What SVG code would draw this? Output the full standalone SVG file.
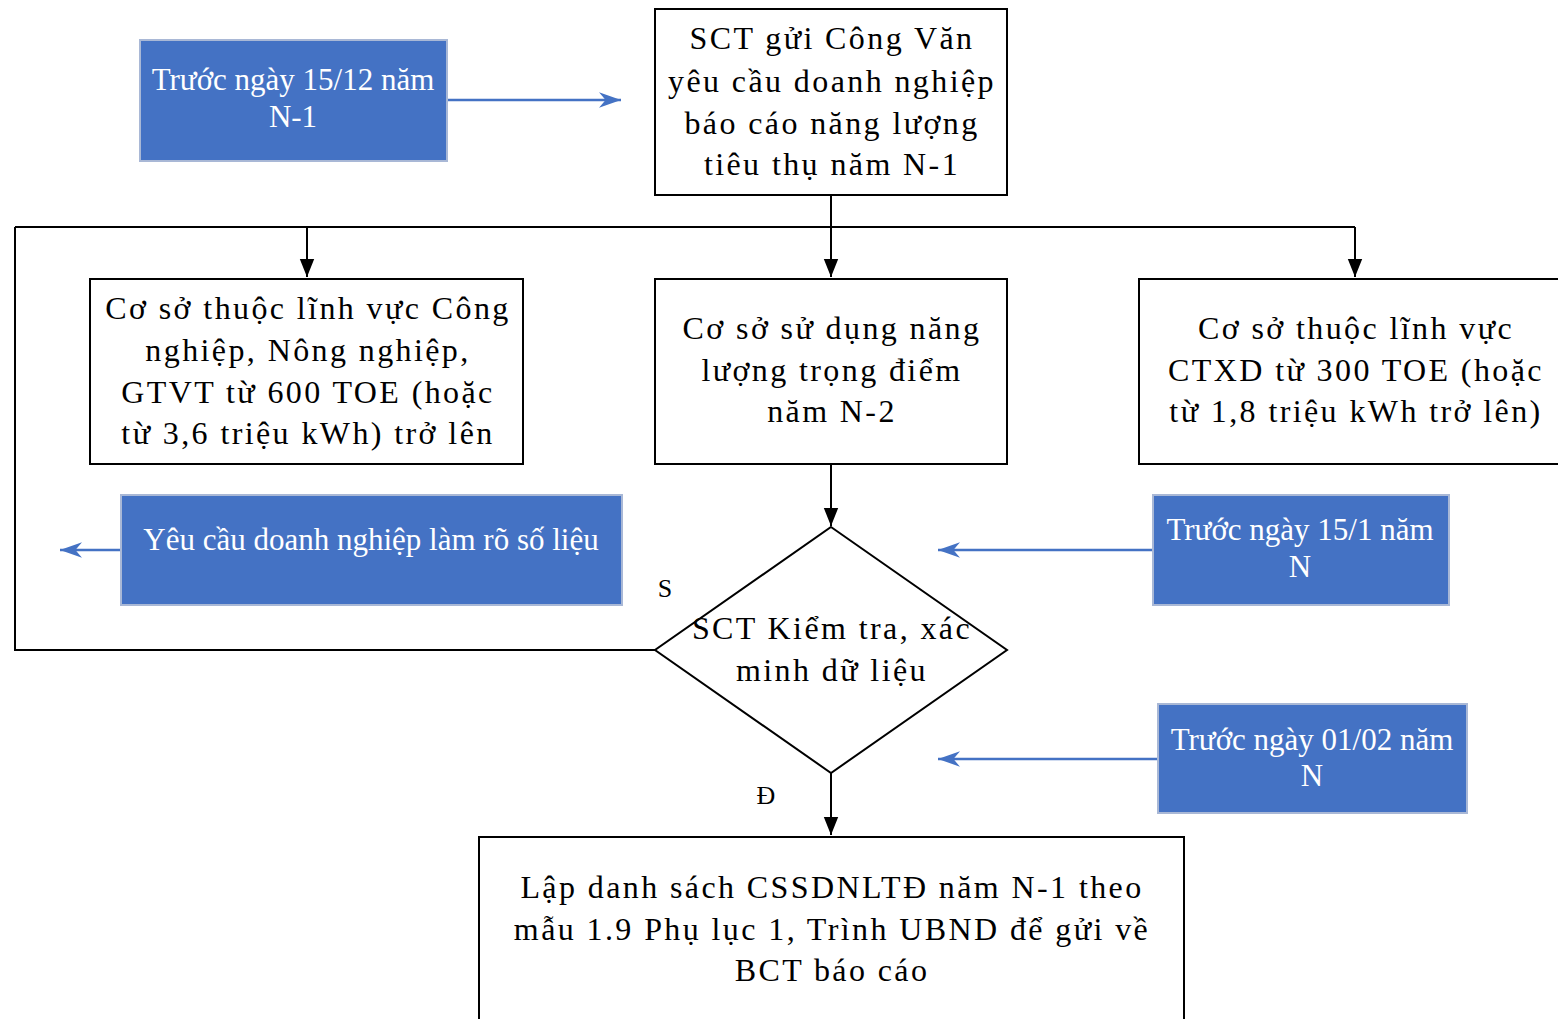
<svg xmlns="http://www.w3.org/2000/svg" width="1558" height="1019" viewBox="0 0 1558 1019">
<defs>
<style>
.box{fill:#fff;stroke:#000;stroke-width:2}
.blue{fill:#4472C4;stroke:#A9B8D6;stroke-width:2}
.t{font-family:"Liberation Serif",serif;font-size:32px;fill:#000;text-anchor:middle;letter-spacing:2.4px}
.w{font-family:"Liberation Serif",serif;font-size:31px;fill:#fff;text-anchor:middle}
.lbl{font-family:"Liberation Serif",serif;font-size:26px;fill:#000;text-anchor:middle}
.ln{fill:none;stroke:#000;stroke-width:2}
.bl{fill:none;stroke:#4472C4;stroke-width:2.5}
</style>
<marker id="bh" viewBox="0 0 10 10" refX="10" refY="5" markerWidth="22" markerHeight="22" markerUnits="userSpaceOnUse" orient="auto"><path d="M0,1.5 L10,5 L0,8.5 L3,5 z" fill="#4472C4"/></marker>
<marker id="ah2" viewBox="0 0 10 10" refX="10" refY="5" markerWidth="18" markerHeight="18" markerUnits="userSpaceOnUse" orient="auto"><path d="M0,1 L10,5 L0,9 z" fill="#000"/></marker>
</defs>
<g id="connectors">
<path class="ln" d="M831,195 V227"/>
<path class="ln" d="M15,227 H1355"/>
<path class="ln" d="M307,227 V277" marker-end="url(#ah2)"/>
<path class="ln" d="M831,227 V277" marker-end="url(#ah2)"/>
<path class="ln" d="M1355,227 V277" marker-end="url(#ah2)"/>
<path class="ln" d="M831,464 V526" marker-end="url(#ah2)"/>
<path class="ln" d="M655,650 H15 V227"/>
<path class="ln" d="M831,773 V835" marker-end="url(#ah2)"/>
<path class="bl" d="M447,100 H621" marker-end="url(#bh)"/>
<path class="bl" d="M121,550 H60" marker-end="url(#bh)"/>
<path class="bl" d="M1153,550 H938" marker-end="url(#bh)"/>
<path class="bl" d="M1158,759 H938" marker-end="url(#bh)"/>
<text class="lbl" x="665" y="597">S</text>
<text class="lbl" x="766" y="804">Đ</text>
</g>
<g id="n-date1">
<rect class="blue" x="140" y="40" width="307" height="121"/>
<text class="w" x="293" y="90">Trước ngày 15/12 năm</text>
<text class="w" x="293" y="127">N-1</text>
</g>
<g id="n-sct">
<rect class="box" x="655" y="9" width="352" height="186"/>
<text class="t" x="832" y="49">SCT gửi Công Văn</text>
<text class="t" x="832" y="92">yêu cầu doanh nghiệp</text>
<text class="t" x="832" y="134">báo cáo năng lượng</text>
<text class="t" x="832" y="175">tiêu thụ năm N-1</text>
</g>
<g id="n-left">
<rect class="box" x="90" y="279" width="433" height="185"/>
<text class="t" x="308" y="319">Cơ sở thuộc lĩnh vực Công</text>
<text class="t" x="308" y="361">nghiệp, Nông nghiệp,</text>
<text class="t" x="308" y="403">GTVT từ 600 TOE (hoặc</text>
<text class="t" x="308" y="444">từ 3,6 triệu kWh) trở lên</text>
</g>
<g id="n-mid">
<rect class="box" x="655" y="279" width="352" height="185"/>
<text class="t" x="832" y="339">Cơ sở sử dụng năng</text>
<text class="t" x="832" y="381">lượng trọng điểm</text>
<text class="t" x="832" y="422">năm N-2</text>
</g>
<g id="n-right">
<rect class="box" x="1139" y="279" width="430" height="185"/>
<text class="t" x="1356" y="339">Cơ sở thuộc lĩnh vực</text>
<text class="t" x="1356" y="381">CTXD từ 300 TOE (hoặc</text>
<text class="t" x="1356" y="422">từ 1,8 triệu kWh trở lên)</text>
</g>
<g id="n-clarify">
<rect class="blue" x="121" y="495" width="501" height="110"/>
<text class="w" x="371" y="550">Yêu cầu doanh nghiệp làm rõ số liệu</text>
</g>
<g id="n-date2">
<rect class="blue" x="1153" y="495" width="296" height="110"/>
<text class="w" x="1300" y="540">Trước ngày 15/1 năm</text>
<text class="w" x="1300" y="577">N</text>
</g>
<g id="n-date3">
<rect class="blue" x="1158" y="704" width="309" height="109"/>
<text class="w" x="1312" y="750">Trước ngày 01/02 năm</text>
<text class="w" x="1312" y="786">N</text>
</g>
<g id="n-check">
<polygon class="box" points="831,527 1007,650 831,773 655,650"/>
<text class="t" x="832" y="639">SCT Kiểm tra, xác</text>
<text class="t" x="832" y="681">minh dữ liệu</text>
</g>
<g id="n-final">
<rect class="box" x="479" y="837" width="705" height="200"/>
<text class="t" x="832" y="898">Lập danh sách CSSDNLTĐ năm N-1 theo</text>
<text class="t" x="832" y="940">mẫu 1.9 Phụ lục 1, Trình UBND để gửi về</text>
<text class="t" x="832" y="981">BCT báo cáo</text>
</g>
</svg>
